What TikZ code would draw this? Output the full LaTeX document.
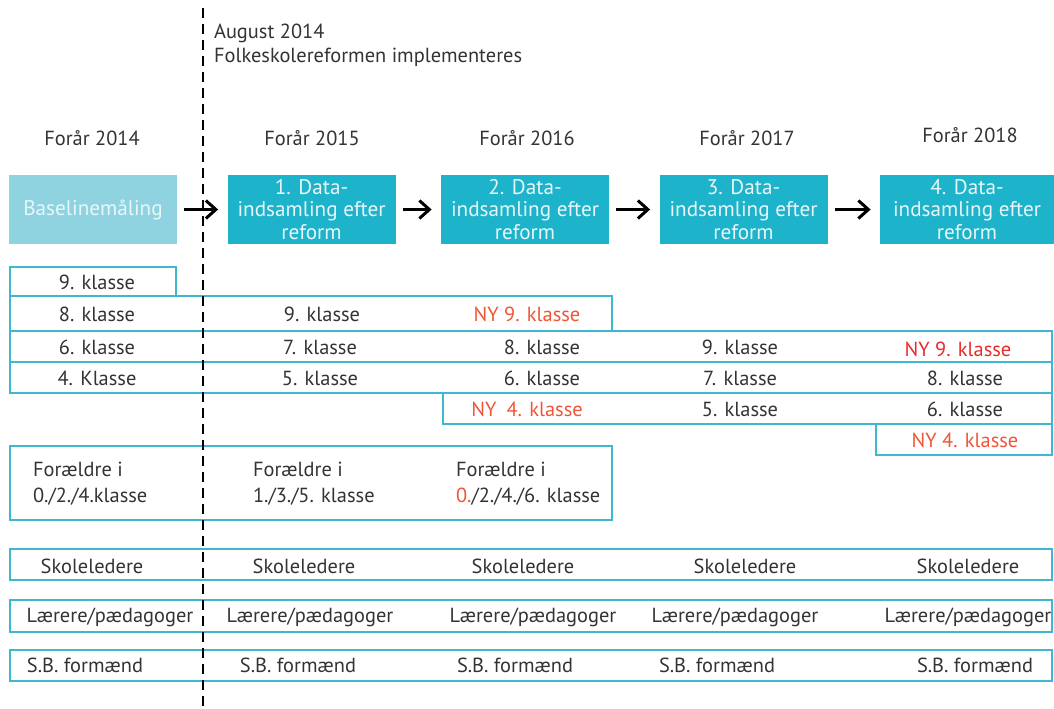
\documentclass[tikz,border=0pt]{standalone}
\usepackage{fontspec}
\setmainfont{PT Sans}
\usepackage{tikz}
\usetikzlibrary{arrows.meta}

\begin{document}
\begin{tikzpicture}[
  x=0.5pt,y=-0.5pt,
  databox/.style={fill=#1,text=boxtext,minimum width=84pt,minimum height=34.5pt,
    inner sep=0pt,align=center,font=\fontsize{10.6}{11.25}\selectfont},
  row/.style={draw=frame,line width=1pt},
  lbl/.style={text=ink},
  flow/.style={line width=1.5pt,-{Straight Barb[length=5pt,width=9pt,line width=1.5pt]},
    shorten <=3.5pt,shorten >=4.5pt},
  font=\fontsize{10.2}{12}\selectfont]

  \definecolor{teal}{HTML}{1DB3CA}
  \definecolor{light}{HTML}{8FD3E1}
  \definecolor{frame}{HTML}{3DB8D0}
  \definecolor{ny}{HTML}{EF5536}
  \definecolor{nyred}{HTML}{E62B2B}
  \definecolor{ink}{HTML}{333333}
  \definecolor{boxtext}{HTML}{E8F6F9}

  \useasboundingbox (0,0) rectangle (1054,708);

  % ------------------- header ----------------------
  \node[lbl,anchor=west,align=left,font=\fontsize{10.2}{12}\selectfont] (aug) at (207,45)
    {August 2014\\Folkeskolereformen implementeres};

  \node[lbl] (h14) at (92,138)  {Forår 2014};
  \node[lbl] (h15) at (312,138) {Forår 2015};
  \node[lbl] (h16) at (527,138) {Forår 2016};
  \node[lbl] (h17) at (747,138) {Forår 2017};
  \node[lbl] (h18) at (970,135) {Forår 2018};

  % ------------------- data boxes ----------------------
  \node[databox=light] (base) at (93,209.5)  {Baselinemåling};
  \node[databox=teal]  (d1)   at (311.5,209.5) {1. Data-\\indsamling efter\\reform};
  \node[databox=teal]  (d2)   at (525,209.5) {2. Data-\\indsamling efter\\reform};
  \node[databox=teal]  (d3)   at (743.5,209.5) {3. Data-\\indsamling efter\\reform};
  \node[databox=teal,minimum width=87pt] (d4) at (967,209.5) {4. Data-\\indsamling efter\\reform};

  \draw[flow] (base) -- (d1);
  \draw[flow] (d1) -- (d2);
  \draw[flow] (d2) -- (d3);
  \draw[flow] (d3) -- (d4);

  % ------------------- classes ----------------------
  \draw[row] (10,267)  rectangle (176,296);
  \draw[row] (10,296)  rectangle (612,331);
  \draw[row] (10,331)  rectangle (1052,362);
  \draw[row] (10,362)  rectangle (1052,393);
  \draw[row] (443,393) rectangle (1052,424);
  \draw[row] (876,424) rectangle (1052,455);

  \node[lbl] (k9a) at (97,282)  {9. klasse};

  \node[lbl] (k8a) at (97,314)  {8. klasse};
  \node[lbl] (k9b) at (322,314) {9. klasse};
  \node[text=ny] (ny9a) at (527,314) {NY 9. klasse};

  \node[lbl] (k6a) at (97,347)  {6. klasse};
  \node[lbl] (k7b) at (320,347) {7. klasse};
  \node[lbl] (k8c) at (542,347) {8. klasse};
  \node[lbl] (k9d) at (740,347) {9. klasse};
  \node[text=nyred] (ny9b) at (958,349) {NY 9. klasse};

  \node[lbl] (k4a) at (97,378)  {4. Klasse};
  \node[lbl] (k5b) at (320,378) {5. klasse};
  \node[lbl] (k6c) at (542,378) {6. klasse};
  \node[lbl] (k7d) at (740,378) {7. klasse};
  \node[lbl] (k8e) at (965,378) {8. klasse};

  \node[text=ny] (ny4a) at (527,409) {NY\enspace 4. klasse};
  \node[lbl] (k5d) at (740,409) {5. klasse};
  \node[lbl] (k6e) at (965,409) {6. klasse};

  \node[text=ny] (ny4b) at (965,440) {NY 4. klasse};

  % ------------------- parents ----------------------
  \draw[row] (10,446) rectangle (612,520);
  \node[lbl,anchor=west,align=left,font=\fontsize{10.2}{13}\selectfont] (p14) at (26,484)
    {Forældre i\\0./2./4.klasse};
  \node[lbl,anchor=west,align=left,font=\fontsize{10.2}{13}\selectfont] (p15) at (246,484)
    {Forældre i\\1./3./5. klasse};
  \node[lbl,anchor=west,align=left,font=\fontsize{10.2}{13}\selectfont] (p16) at (449,484)
    {Forældre i\\\textcolor{ny}{0.}/2./4./6. klasse};

  % ------------------- staff ----------------------
  \draw[row] (10,549) rectangle (1052,580);
  \draw[row] (10,600) rectangle (1052,632);
  \draw[row] (10,650) rectangle (1052,681);

  \foreach \x [count=\i] in {92,304,523,745,968}
    \node[lbl] (sk\i) at (\x,566) {Skoleledere};
  \foreach \x [count=\i] in {110,310,533,735,968}
    \node[lbl] (lp\i) at (\x,617) {Lærere/pædagoger};
  \foreach \x [count=\i] in {85,298,515,717,975}
    \node[lbl] (sb\i) at (\x,665) {S.B. formænd};

  % ------------------- reform line ----------------------
  \draw[line width=1.4pt,dash pattern=on 5pt off 3pt] (203,8) -- (203,708);
\end{tikzpicture}
\end{document}
